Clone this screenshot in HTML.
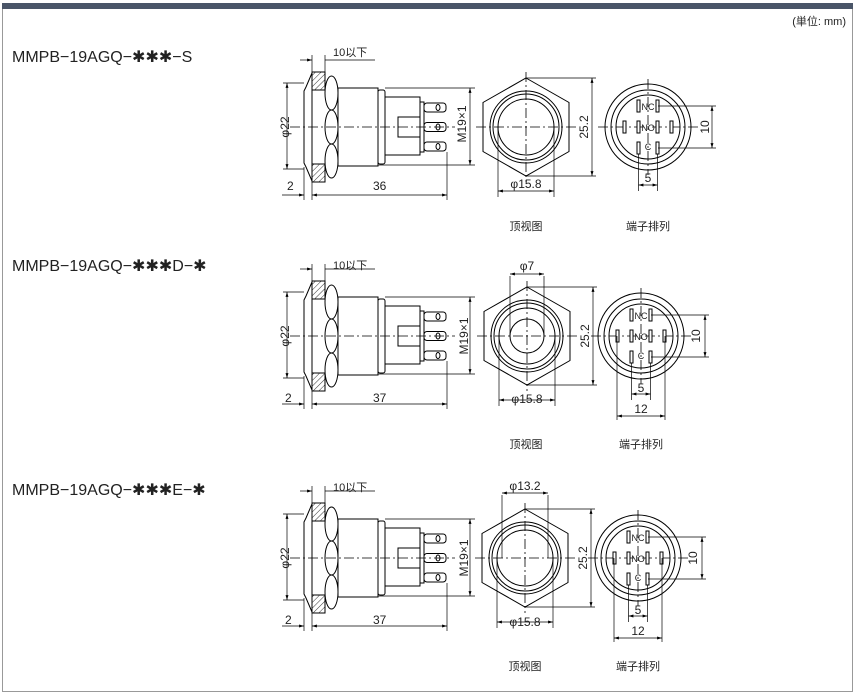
<!DOCTYPE html>
<html><head><meta charset="utf-8"><style>
html,body{margin:0;padding:0;background:#fff;}
svg{display:block;}
text{font-family:"Liberation Sans","Noto Sans CJK SC",sans-serif;fill:#222;}
</style></head><body>
<svg width="855" height="700" viewBox="0 0 855 700" xmlns="http://www.w3.org/2000/svg">
<defs>
<marker id="a" viewBox="0 0 10 10" refX="10" refY="5" markerWidth="7" markerHeight="7" orient="auto-start-reverse"><path d="M0,2 L10,5 L0,8 Z" fill="#000"/></marker>
<pattern id="h" width="4" height="4" patternUnits="userSpaceOnUse" patternTransform="rotate(45)"><line x1="0" y1="0" x2="0" y2="4" stroke="#000" stroke-width="0.8"/></pattern>
<g id="side" fill="none" stroke="#000" stroke-width="1">
 <path d="M312,-54 L306,-40 L304,-36 L304,36 L306,40 L312,54"/>
 <rect x="312" y="-55" width="13" height="18" fill="url(#h)"/>
 <rect x="312" y="37" width="13" height="18" fill="url(#h)"/>
 <line x1="312" y1="-37" x2="312" y2="37"/>
 <ellipse cx="331.5" cy="-34" rx="6.5" ry="17" fill="#fff"/>
 <ellipse cx="331.5" cy="0" rx="6.5" ry="17" fill="#fff"/>
 <ellipse cx="331.5" cy="34" rx="6.5" ry="17" fill="#fff"/>
 <rect x="338" y="-39" width="40" height="78"/>
 <rect x="378" y="-37" width="7" height="74" rx="2"/>
 <rect x="385" y="-30" width="35" height="58"/>
 <rect x="398" y="-10" width="22" height="20"/>
 <rect x="420" y="-25" width="4" height="50"/>
 <rect x="424" y="-24" width="22" height="9" rx="3"/>
 <rect x="424" y="-4.5" width="22" height="9" rx="3"/>
 <rect x="424" y="15" width="22" height="9" rx="3"/>
 <ellipse cx="438" cy="-19.5" rx="2" ry="3"/><ellipse cx="438" cy="0" rx="2" ry="3"/><ellipse cx="438" cy="19.5" rx="2" ry="3"/>
 <line x1="290" y1="0" x2="455" y2="0" stroke-dasharray="10,3,2,3" stroke-width="0.8"/>
 <line x1="283" y1="-44" x2="304" y2="-44" stroke-width="0.7"/>
 <line x1="283" y1="42" x2="304" y2="42" stroke-width="0.7"/>
 <line x1="287" y1="-44" x2="287" y2="42" stroke-width="0.7" marker-start="url(#a)" marker-end="url(#a)"/>
 <line x1="385" y1="-39" x2="475" y2="-39" stroke-width="0.7"/>
 <line x1="378" y1="38" x2="475" y2="38" stroke-width="0.7"/>
 <line x1="470" y1="-39" x2="470" y2="38" stroke-width="0.7" marker-start="url(#a)" marker-end="url(#a)"/>
 <line x1="304" y1="40" x2="304" y2="73" stroke-width="0.7"/>
 <line x1="312" y1="55" x2="312" y2="73" stroke-width="0.7"/>
 <line x1="447" y1="25" x2="447" y2="73" stroke-width="0.7"/>
 <line x1="282" y1="68" x2="304" y2="68" stroke-width="0.7" marker-end="url(#a)"/>
 <line x1="312" y1="68" x2="447" y2="68" stroke-width="0.7" marker-start="url(#a)" marker-end="url(#a)"/>
 <line x1="312" y1="-72" x2="312" y2="-55" stroke-width="0.7"/>
 <line x1="325" y1="-72" x2="325" y2="-55" stroke-width="0.7"/>
 <line x1="300" y1="-67" x2="312" y2="-67" stroke-width="0.7" marker-end="url(#a)"/>
 <line x1="325" y1="-67" x2="375" y2="-67" stroke-width="0.7"/>
</g>
<g id="hex" fill="none" stroke="#000" stroke-width="1">
 <polygon points="0,-49 43,-24.5 43,24.5 0,49 -43,24.5 -43,-24.5"/>
 <circle r="36"/><circle r="33"/><circle r="28"/>
 <line x1="-50" y1="0" x2="50" y2="0" stroke-dasharray="10,3,2,3" stroke-width="0.8"/>
 <line x1="0" y1="-55" x2="0" y2="55" stroke-dasharray="10,3,2,3" stroke-width="0.8"/>
 <line x1="0" y1="-49" x2="70" y2="-49" stroke-width="0.7"/>
 <line x1="0" y1="49" x2="70" y2="49" stroke-width="0.7"/>
 <line x1="66" y1="-49" x2="66" y2="49" stroke-width="0.7" marker-start="url(#a)" marker-end="url(#a)"/>
 <line x1="-28" y1="0" x2="-28" y2="70" stroke-width="0.7"/>
 <line x1="28" y1="0" x2="28" y2="70" stroke-width="0.7"/>
 <line x1="-28" y1="64" x2="28" y2="64" stroke-width="0.7" marker-start="url(#a)" marker-end="url(#a)"/>
</g>
<g id="term" fill="none" stroke="#000" stroke-width="1">
 <circle r="43"/><circle r="37"/><circle r="32"/>
 <line x1="-50" y1="0" x2="50" y2="0" stroke-dasharray="10,3,2,3" stroke-width="0.8"/>
 <line x1="0" y1="-48" x2="0" y2="48" stroke-dasharray="10,3,2,3" stroke-width="0.8"/>
 <rect x="-11" y="-27" width="3" height="12" fill="#fff"/><rect x="8" y="-27" width="3" height="12" fill="#fff"/>
 <rect x="-11" y="-6" width="3" height="12" fill="#fff"/><rect x="8" y="-6" width="3" height="12" fill="#fff"/>
 <rect x="-11" y="15" width="3" height="12" fill="#fff"/><rect x="8" y="15" width="3" height="12" fill="#fff"/>
 <rect x="-25" y="-6" width="3" height="12" fill="#fff"/><rect x="22" y="-6" width="3" height="12" fill="#fff"/>
 <line x1="10" y1="-21" x2="68" y2="-21" stroke-width="0.7"/>
 <line x1="10" y1="21" x2="68" y2="21" stroke-width="0.7"/>
 <line x1="64" y1="-21" x2="64" y2="21" stroke-width="0.7" marker-start="url(#a)" marker-end="url(#a)"/>
 <line x1="-9.5" y1="27" x2="-9.5" y2="64" stroke-width="0.7"/>
 <line x1="9.5" y1="27" x2="9.5" y2="64" stroke-width="0.7"/>
 <line x1="-9.5" y1="58" x2="9.5" y2="58" stroke-width="0.7" marker-start="url(#a)" marker-end="url(#a)"/>
</g>
</defs>
<rect x="2.5" y="3.5" width="850" height="688" fill="none" stroke="#999" stroke-width="1"/>
<rect x="2" y="3" width="851" height="6" fill="#4a5568"/>
<text x="846" y="25" font-size="11" text-anchor="end" fill="#555">(単位: mm)</text>

<!-- Row 1 -->
<text x="12" y="62" font-size="16" fill="#333">MMPB−19AGQ−✱✱✱−S</text>
<use href="#side" transform="translate(0,127)"/>
<text x="333" y="56" font-size="11">10以下</text>
<text x="287" y="190" font-size="12">2</text>
<text x="373" y="190" font-size="12">36</text>
<text transform="translate(289,127) rotate(-90)" font-size="12" text-anchor="middle">φ22</text>
<text transform="translate(466,124) rotate(-90)" font-size="12" text-anchor="middle">M19×1</text>
<use href="#hex" transform="translate(526,127)"/>
<text transform="translate(588,127) rotate(-90)" font-size="12" text-anchor="middle">25.2</text>
<text x="526" y="188" font-size="12" text-anchor="middle">φ15.8</text>
<use href="#term" transform="translate(648,127)"/>
<text x="648" y="110" font-size="9" text-anchor="middle">NC</text>
<text x="648" y="131" font-size="9" text-anchor="middle">NO</text>
<text x="648" y="150" font-size="9" text-anchor="middle">C</text>
<text transform="translate(709,127) rotate(-90)" font-size="12" text-anchor="middle">10</text>
<text x="648" y="182" font-size="12" text-anchor="middle">5</text>
<text x="526" y="230" font-size="11" text-anchor="middle">顶视图</text>
<text x="648" y="230" font-size="11" text-anchor="middle">端子排列</text>

<!-- Row 2 -->
<text x="12" y="271" font-size="16" fill="#333">MMPB−19AGQ−✱✱✱D−✱</text>
<use href="#side" transform="translate(0,336)"/>
<text x="333" y="269" font-size="11">10以下</text>
<text x="285" y="402" font-size="12">2</text>
<text x="373" y="402" font-size="12">37</text>
<text transform="translate(289,336) rotate(-90)" font-size="12" text-anchor="middle">φ22</text>
<text transform="translate(468,336) rotate(-90)" font-size="12" text-anchor="middle">M19×1</text>
<use href="#hex" transform="translate(527,336)"/>
<circle cx="527" cy="336" r="17" fill="none" stroke="#000"/>
<line x1="510" y1="276" x2="510" y2="336" stroke="#000" stroke-width="0.7"/>
<line x1="544" y1="276" x2="544" y2="336" stroke="#000" stroke-width="0.7"/>
<line x1="510" y1="274" x2="544" y2="274" stroke="#000" stroke-width="0.7" marker-start="url(#a)" marker-end="url(#a)"/>
<text x="527" y="270" font-size="12" text-anchor="middle">φ7</text>
<text transform="translate(589,336) rotate(-90)" font-size="12" text-anchor="middle">25.2</text>
<text x="527" y="403" font-size="12" text-anchor="middle">φ15.8</text>
<use href="#term" transform="translate(641,336)"/>
<line x1="617" y1="336" x2="617" y2="420" stroke="#000" stroke-width="0.7"/>
<line x1="665" y1="336" x2="665" y2="420" stroke="#000" stroke-width="0.7"/>
<line x1="617" y1="416" x2="665" y2="416" stroke="#000" stroke-width="0.7" marker-start="url(#a)" marker-end="url(#a)"/>
<text x="641" y="319" font-size="9" text-anchor="middle">NC</text>
<text x="641" y="340" font-size="9" text-anchor="middle">NO</text>
<text x="641" y="359" font-size="9" text-anchor="middle">C</text>
<text transform="translate(700,336) rotate(-90)" font-size="12" text-anchor="middle">10</text>
<text x="641" y="392" font-size="12" text-anchor="middle">5</text>
<text x="641" y="413" font-size="12" text-anchor="middle">12</text>
<text x="526" y="448" font-size="11" text-anchor="middle">顶视图</text>
<text x="641" y="448" font-size="11" text-anchor="middle">端子排列</text>

<!-- Row 3 -->
<text x="12" y="495" font-size="16" fill="#333">MMPB−19AGQ−✱✱✱E−✱</text>
<use href="#side" transform="translate(0,558)"/>
<text x="333" y="491" font-size="11">10以下</text>
<text x="285" y="624" font-size="12">2</text>
<text x="373" y="624" font-size="12">37</text>
<text transform="translate(289,558) rotate(-90)" font-size="12" text-anchor="middle">φ22</text>
<text transform="translate(468,558) rotate(-90)" font-size="12" text-anchor="middle">M19×1</text>
<use href="#hex" transform="translate(525,558)"/>
<line x1="502" y1="495" x2="502" y2="558" stroke="#000" stroke-width="0.7"/>
<line x1="548" y1="495" x2="548" y2="558" stroke="#000" stroke-width="0.7"/>
<line x1="502" y1="493" x2="548" y2="493" stroke="#000" stroke-width="0.7" marker-start="url(#a)" marker-end="url(#a)"/>
<text x="525" y="490" font-size="12" text-anchor="middle">φ13.2</text>
<text transform="translate(587,558) rotate(-90)" font-size="12" text-anchor="middle">25.2</text>
<text x="525" y="626" font-size="12" text-anchor="middle">φ15.8</text>
<use href="#term" transform="translate(638,558)"/>
<line x1="614" y1="558" x2="614" y2="642" stroke="#000" stroke-width="0.7"/>
<line x1="662" y1="558" x2="662" y2="642" stroke="#000" stroke-width="0.7"/>
<line x1="614" y1="638" x2="662" y2="638" stroke="#000" stroke-width="0.7" marker-start="url(#a)" marker-end="url(#a)"/>
<text x="638" y="541" font-size="9" text-anchor="middle">NC</text>
<text x="638" y="562" font-size="9" text-anchor="middle">NO</text>
<text x="638" y="581" font-size="9" text-anchor="middle">C</text>
<text transform="translate(697,558) rotate(-90)" font-size="12" text-anchor="middle">10</text>
<text x="638" y="614" font-size="12" text-anchor="middle">5</text>
<text x="638" y="635" font-size="12" text-anchor="middle">12</text>
<text x="525" y="670" font-size="11" text-anchor="middle">顶视图</text>
<text x="638" y="670" font-size="11" text-anchor="middle">端子排列</text>
</svg>
</body></html>
